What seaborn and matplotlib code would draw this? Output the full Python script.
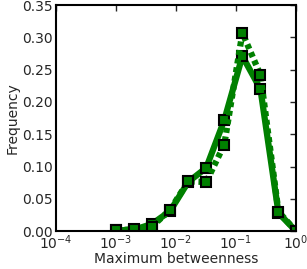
import numpy as np
import pandas as pd
import seaborn as sns
import matplotlib
matplotlib.use("Agg")
import matplotlib.pyplot as plt

# bin centres (maximum betweenness) and frequencies for the two series
bins = [0.001, 0.002, 0.004, 0.008, 0.016, 0.032, 0.064, 0.128, 0.256, 0.512, 1.0]
freq_solid = [0.001, 0.002, 0.011, 0.031, 0.076, 0.098, 0.172, 0.271, 0.220, 0.028, 0.0]
freq_dotted = [0.001, 0.003, 0.007, 0.033, 0.077, 0.076, 0.134, 0.307, 0.242, 0.030, 0.0]

sns.set_style("white")
plt.rcParams['font.family'] = ['DejaVu Sans']
plt.rcParams['xtick.direction'] = 'in'
plt.rcParams['ytick.direction'] = 'in'

df = pd.DataFrame({'x': bins * 2,
                   'y': freq_solid + freq_dotted,
                   'series': ['a'] * len(bins) + ['b'] * len(bins)})

fig = plt.figure(figsize=(3.07, 2.69), dpi=100)
ax = fig.add_axes([0.182, 0.141, 0.782, 0.840])

mk = dict(marker='s', markersize=6.5, markerfacecolor='green',
          markeredgecolor='black', markeredgewidth=1.5)
sns.lineplot(data=df[df.series == 'a'], x='x', y='y', ax=ax, color='green',
             lw=4.5, **mk)
sns.lineplot(data=df[df.series == 'b'], x='x', y='y', ax=ax, color='green',
             lw=4.5, linestyle=(0, (0.8, 0.6)), **mk)

ax.set_xscale('log')
ax.set_xlim(1e-4, 1)
ax.set_ylim(0, 0.35)
ax.minorticks_off()
ax.set_yticks(np.arange(0, 0.36, 0.05))
ax.set_yticklabels(['%.2f' % v for v in np.arange(0, 0.36, 0.05)])
ax.set_xlabel('Maximum betweenness', fontsize=10, labelpad=0)
ax.set_ylabel('Frequency', fontsize=10, labelpad=2)
ax.tick_params(labelsize=10, top=True, right=True, direction='in', length=4, width=1, pad=2)
for s in ax.spines.values():
    s.set_linewidth(1.5)
    s.set_color('black')

fig.savefig('out.png', dpi=100)
